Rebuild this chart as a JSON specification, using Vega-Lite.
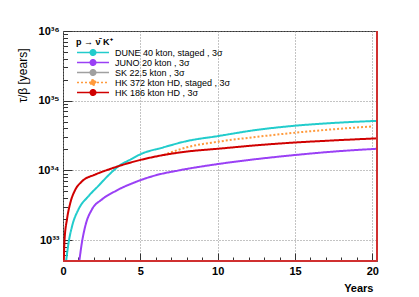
{
  "$schema": "https://vega.github.io/schema/vega-lite/v6.json",
  "width": 314,
  "height": 230,
  "autosize": {"type": "none"},
  "padding": {"left": 63, "top": 31, "right": 42, "bottom": 36},
  "background": "white",
  "config": {
    "font": "Liberation Sans",
    "view": {"stroke": "#333333", "strokeWidth": 1},
    "legend": {
      "orient": "none",
      "legendX": 13,
      "legendY": 7,
      "padding": 0,
      "rowPadding": 0,
      "clipHeight": 9,
      "symbolType": "M-1,0L1,0M-0.17,0A0.17,0.17,0,1,0,0.17,0A0.17,0.17,0,1,0,-0.17,0Z",
      "symbolSize": 1024,
      "symbolStrokeWidth": 1.6,
      "labelFont": "Liberation Sans",
      "labelFontSize": 9,
      "labelColor": "#000000",
      "labelOffset": 5,
      "titleFont": "Liberation Sans",
      "titleFontSize": 9,
      "titleFontWeight": "bold",
      "titleColor": "#000000",
      "titlePadding": 1,
      "labelLimit": 300
    }
  },
  "data": {
    "values": [
      {"series": "HK 372 kton HD, staged , 3σ", "year": 6.5, "tau": 1.66e34},
      {"series": "HK 372 kton HD, staged , 3σ", "year": 8, "tau": 2.14e34},
      {"series": "HK 372 kton HD, staged , 3σ", "year": 10, "tau": 2.57e34},
      {"series": "HK 372 kton HD, staged , 3σ", "year": 12.5, "tau": 3.02e34},
      {"series": "HK 372 kton HD, staged , 3σ", "year": 15, "tau": 3.47e34},
      {"series": "HK 372 kton HD, staged , 3σ", "year": 17.5, "tau": 3.89e34},
      {"series": "HK 372 kton HD, staged , 3σ", "year": 20, "tau": 4.27e34},

      {"series": "DUNE 40 kton, staged , 3σ", "year": 0.15, "tau": 4.0e32},
      {"series": "DUNE 40 kton, staged , 3σ", "year": 0.36, "tau": 9.12e32},
      {"series": "DUNE 40 kton, staged , 3σ", "year": 0.6, "tau": 1.62e33},
      {"series": "DUNE 40 kton, staged , 3σ", "year": 1.0, "tau": 2.75e33},
      {"series": "DUNE 40 kton, staged , 3σ", "year": 1.65, "tau": 4.27e33},
      {"series": "DUNE 40 kton, staged , 3σ", "year": 2.3, "tau": 6.03e33},
      {"series": "DUNE 40 kton, staged , 3σ", "year": 2.94, "tau": 8.5e33},
      {"series": "DUNE 40 kton, staged , 3σ", "year": 3.6, "tau": 1.15e34},
      {"series": "DUNE 40 kton, staged , 3σ", "year": 4.4, "tau": 1.445e34},
      {"series": "DUNE 40 kton, staged , 3σ", "year": 5, "tau": 1.70e34},
      {"series": "DUNE 40 kton, staged , 3σ", "year": 6.5, "tau": 2.14e34},
      {"series": "DUNE 40 kton, staged , 3σ", "year": 8, "tau": 2.63e34},
      {"series": "DUNE 40 kton, staged , 3σ", "year": 10, "tau": 3.1e34},
      {"series": "DUNE 40 kton, staged , 3σ", "year": 12.5, "tau": 3.8e34},
      {"series": "DUNE 40 kton, staged , 3σ", "year": 15, "tau": 4.37e34},
      {"series": "DUNE 40 kton, staged , 3σ", "year": 17.5, "tau": 4.79e34},
      {"series": "DUNE 40 kton, staged , 3σ", "year": 20.3, "tau": 5.13e34},

      {"series": "JUNO 20 kton , 3σ", "year": 1.03, "tau": 4.5e32},
      {"series": "JUNO 20 kton , 3σ", "year": 1.22, "tau": 9.12e32},
      {"series": "JUNO 20 kton , 3σ", "year": 1.44, "tau": 1.585e33},
      {"series": "JUNO 20 kton , 3σ", "year": 1.87, "tau": 2.75e33},
      {"series": "JUNO 20 kton , 3σ", "year": 2.5, "tau": 3.8e33},
      {"series": "JUNO 20 kton , 3σ", "year": 3.37, "tau": 5.01e33},
      {"series": "JUNO 20 kton , 3σ", "year": 4.66, "tau": 6.76e33},
      {"series": "JUNO 20 kton , 3σ", "year": 6, "tau": 8.5e33},
      {"series": "JUNO 20 kton , 3σ", "year": 7.5, "tau": 1.0e34},
      {"series": "JUNO 20 kton , 3σ", "year": 10, "tau": 1.23e34},
      {"series": "JUNO 20 kton , 3σ", "year": 12.5, "tau": 1.45e34},
      {"series": "JUNO 20 kton , 3σ", "year": 15, "tau": 1.66e34},
      {"series": "JUNO 20 kton , 3σ", "year": 17.5, "tau": 1.86e34},
      {"series": "JUNO 20 kton , 3σ", "year": 20.3, "tau": 2.04e34},

      {"series": "HK 186 kton HD , 3σ", "year": 0.04, "tau": 4.0e32},
      {"series": "HK 186 kton HD , 3σ", "year": 0.1, "tau": 1.0e33},
      {"series": "HK 186 kton HD , 3σ", "year": 0.26, "tau": 2.0e33},
      {"series": "HK 186 kton HD , 3σ", "year": 0.47, "tau": 3.39e33},
      {"series": "HK 186 kton HD , 3σ", "year": 0.79, "tau": 5.25e33},
      {"series": "HK 186 kton HD , 3σ", "year": 1.22, "tau": 6.92e33},
      {"series": "HK 186 kton HD , 3σ", "year": 2.08, "tau": 8.71e33},
      {"series": "HK 186 kton HD , 3σ", "year": 2.9, "tau": 1.02e34},
      {"series": "HK 186 kton HD , 3σ", "year": 3.7, "tau": 1.17e34},
      {"series": "HK 186 kton HD , 3σ", "year": 5, "tau": 1.41e34},
      {"series": "HK 186 kton HD , 3σ", "year": 6.5, "tau": 1.66e34},
      {"series": "HK 186 kton HD , 3σ", "year": 8, "tau": 1.86e34},
      {"series": "HK 186 kton HD , 3σ", "year": 10, "tau": 2.04e34},
      {"series": "HK 186 kton HD , 3σ", "year": 12.5, "tau": 2.29e34},
      {"series": "HK 186 kton HD , 3σ", "year": 15, "tau": 2.51e34},
      {"series": "HK 186 kton HD , 3σ", "year": 17.5, "tau": 2.69e34},
      {"series": "HK 186 kton HD , 3σ", "year": 20.3, "tau": 2.88e34}
    ]
  },
  "layer": [
    {
      "mark": {"type": "line", "strokeWidth": 2, "clip": true, "interpolate": "monotone"},
      "encoding": {
        "x": {
          "field": "year", "type": "quantitative",
          "scale": {"domain": [0, 20.3], "nice": false, "zero": false},
          "axis": {
            "orient": "bottom",
            "values": [0, 5, 10, 15, 20],
            "format": "d",
            "domain": false,
            "tickSize": -8,
            "tickColor": "#333333",
            "labelPadding": 12,
            "labelFont": "Liberation Sans",
            "labelFontSize": 11,
            "labelFontWeight": "bold",
            "labelColor": "#000000",
            "labelFlush": false,
            "grid": true,
            "gridDash": [1, 2],
            "gridColor": "#888888",
            "title": "Years",
            "titleFont": "Liberation Sans",
            "titleFontSize": 11,
            "titleFontWeight": "bold",
            "titleColor": "#000000",
            "titleAnchor": "end",
            "titleAlign": "right",
            "titleX": 310,
            "titleY": 30,
            "titleBaseline": "alphabetic"
          }
        },
        "y": {
          "field": "tau", "type": "quantitative",
          "scale": {"type": "log", "domain": [5e32, 1e36], "nice": false},
          "axis": {
            "orient": "left",
            "values": [1e33, 1e34, 1e35, 1e36],
            "labelExpr": "'10' + (datum.value < 5e33 ? '³³' : datum.value < 5e34 ? '³⁴' : datum.value < 5e35 ? '³⁵' : '³⁶')",
            "domain": false,
            "tickSize": -9,
            "tickColor": "#333333",
            "labelPadding": 13,
            "labelFont": "Liberation Sans",
            "labelFontSize": 11,
            "labelFontWeight": "bold",
            "labelColor": "#000000",
            "grid": true,
            "gridDash": [1, 2],
            "gridColor": "#888888",
            "title": "τ/β [years]",
            "titleFont": "Liberation Sans",
            "titleFontSize": 12,
            "titleFontWeight": "normal",
            "titleColor": "#000000",
            "titleAngle": -90,
            "titleAlign": "right",
            "titleAnchor": "end",
            "titleBaseline": "middle",
            "titleX": -41,
            "titleY": 17
          }
        },
        "color": {
          "field": "series", "type": "nominal",
          "scale": {
            "domain": ["DUNE 40 kton, staged , 3σ", "JUNO 20 kton , 3σ", "SK 22.5 kton , 3σ", "HK 372 kton HD, staged , 3σ", "HK 186 kton HD , 3σ"],
            "range": ["#22cccc", "#9a40f5", "#a0a0a0", "#ff9a3c", "#d00000"]
          },
          "legend": {
            "title": "p → ν̄ K⁺",
            "encode": {"symbols": {"update": {"fill": {"scale": "color", "field": "value"}}}}
          }
        },
        "strokeDash": {
          "field": "series", "type": "nominal",
          "scale": {
            "domain": ["DUNE 40 kton, staged , 3σ", "JUNO 20 kton , 3σ", "SK 22.5 kton , 3σ", "HK 372 kton HD, staged , 3σ", "HK 186 kton HD , 3σ"],
            "range": [[1, 0], [1, 0], [1, 0], [2, 2], [1, 0]]
          },
          "legend": {"title": "p → ν̄ K⁺"}
        }
      }
    },
    {
      "mark": {"type": "point", "opacity": 0},
      "encoding": {
        "x": {
          "field": "year", "type": "quantitative",
          "axis": {
            "orient": "bottom",
            "values": [1, 2, 3, 4, 6, 7, 8, 9, 11, 12, 13, 14, 16, 17, 18, 19],
            "labels": false,
            "domain": false,
            "grid": false,
            "tickSize": -4,
            "tickColor": "#333333",
            "title": null
          }
        },
        "y": {
          "field": "tau", "type": "quantitative",
          "axis": {
            "orient": "left",
            "values": [6e32, 7e32, 8e32, 9e32, 2e33, 3e33, 4e33, 5e33, 6e33, 7e33, 8e33, 9e33, 2e34, 3e34, 4e34, 5e34, 6e34, 7e34, 8e34, 9e34, 2e35, 3e35, 4e35, 5e35, 6e35, 7e35, 8e35, 9e35],
            "labels": false,
            "domain": false,
            "grid": false,
            "tickSize": -4.5,
            "tickColor": "#333333",
            "title": null
          }
        }
      }
    },
    {
      "mark": {"type": "rule", "color": "#d03030", "strokeWidth": 1.5},
      "encoding": {"x": {"datum": 20.3, "type": "quantitative", "axis": null}}
    },
    {
      "mark": {"type": "rule", "color": "#d03030", "strokeWidth": 1.5},
      "encoding": {"y": {"datum": 5e32, "type": "quantitative", "axis": null}}
    }
  ],
  "resolve": {"axis": {"x": "independent", "y": "independent"}}
}
